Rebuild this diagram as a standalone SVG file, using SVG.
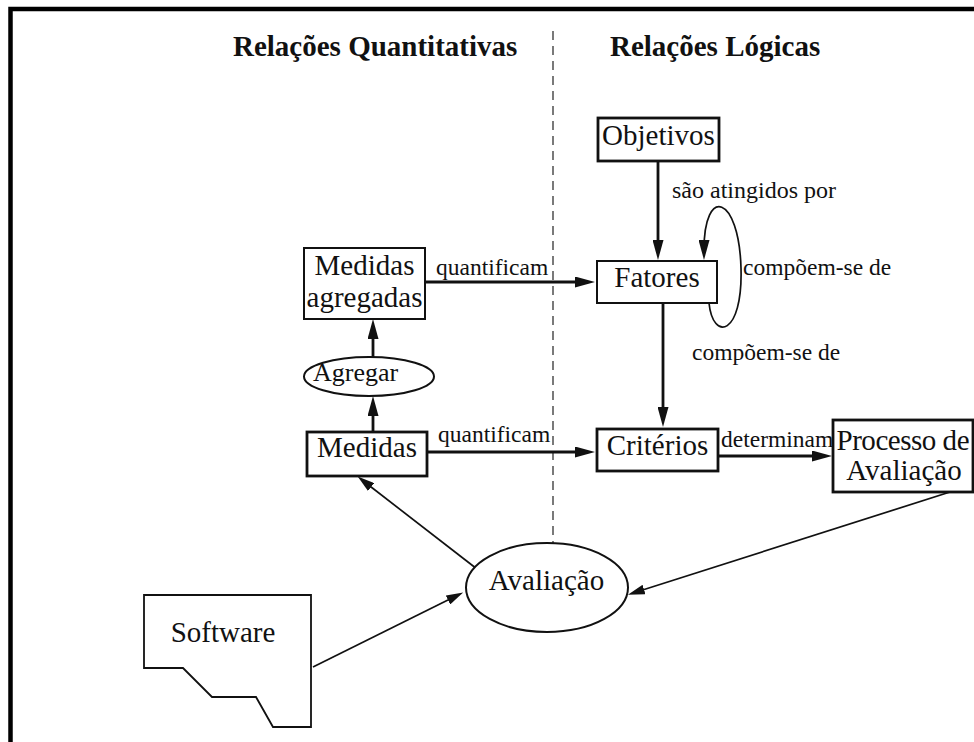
<svg xmlns="http://www.w3.org/2000/svg" width="974" height="742" viewBox="0 0 974 742" font-family="'Liberation Serif', 'DejaVu Serif', serif">
<style>
text{font-family:'Liberation Serif','DejaVu Serif',serif;fill:#111;}
.n{font-size:29px;}
.l{font-size:23.5px;}
.h{font-size:29px;font-weight:bold;}
.box{fill:#fff;stroke:#111;}
.c{fill:none;stroke:#111;}
.thick{stroke-width:2.8;}
.thin{stroke-width:1.7;}
</style>
<defs>
<marker id="ah" markerUnits="userSpaceOnUse" markerWidth="20" markerHeight="11" refX="10" refY="5.5" orient="auto">
<path d="M0,0 L20,5.5 L0,11 z" fill="#111"/>
</marker>
<marker id="as" markerUnits="userSpaceOnUse" markerWidth="17" markerHeight="10" refX="9" refY="5" orient="auto">
<path d="M0,0 L17,5 L0,10 z" fill="#111"/>
</marker>
</defs>
<rect x="0" y="0" width="974" height="742" fill="#fff"/>
<rect x="10.5" y="9" width="990" height="780" fill="none" stroke="#000" stroke-width="4.5"/>
<g id="titles">
<text class="h" x="233" y="56">Relações Quantitativas</text>
<text class="h" x="610" y="56">Relações Lógicas</text>
</g>
<line x1="553" y1="31" x2="553" y2="543" stroke="#333" stroke-width="1.3" stroke-dasharray="9,6"/>
<g id="connectors">
<line class="c thick" x1="425" y1="282" x2="585" y2="282" marker-end="url(#ah)"/>
<line class="c thick" x1="427" y1="452" x2="585" y2="452" marker-end="url(#ah)"/>
<line class="c thick" x1="718" y1="456" x2="822" y2="456" marker-end="url(#ah)"/>
<line class="c thick" x1="658" y1="161" x2="658" y2="250" marker-end="url(#ah)"/>
<line class="c thick" x1="663" y1="303" x2="663" y2="417" marker-end="url(#ah)"/>
<line class="c thick" x1="373" y1="357" x2="373" y2="329" marker-end="url(#ah)"/>
<line class="c thick" x1="373" y1="432" x2="373" y2="406" marker-end="url(#ah)"/>
<path class="c thin" d="M709 303 C713 342, 743 336, 741 268 C739 195, 704 185, 704 250" marker-end="url(#ah)"/>
<line class="c thin" x1="477" y1="569" x2="364" y2="481.5" marker-end="url(#as)"/>
<line class="c thin" x1="313" y1="667" x2="456" y2="596" marker-end="url(#as)"/>
<line class="c thin" x1="950" y1="492" x2="635.5" y2="592.3" marker-end="url(#as)"/>
<text class="l" x="436" y="275">quantificam</text>
<text class="l" x="438" y="442">quantificam</text>
<text class="l" x="721" y="447">determinam</text>
<text class="l" x="672" y="198" style="font-size:24px">são atingidos por</text>
<text class="l" x="743" y="275">compõem-se de</text>
<text class="l" x="692" y="360">compõem-se de</text>
</g>
<g id="objetivos">
<rect class="box" x="598" y="118" width="121" height="43" stroke-width="2.8"/>
<text class="n" x="658.5" y="145" text-anchor="middle">Objetivos</text>
</g>
<g id="fatores">
<rect class="box" x="597" y="261" width="120" height="42" stroke-width="2"/>
<text class="n" x="657" y="287" text-anchor="middle">Fatores</text>
</g>
<g id="medidas-agregadas">
<rect class="box" x="304" y="248" width="121" height="71" stroke-width="2"/>
<text class="n" x="364.5" y="275" text-anchor="middle">Medidas</text>
<text class="n" x="364.5" y="307" text-anchor="middle">agregadas</text>
</g>
<g id="agregar">
<ellipse class="box" cx="369" cy="376.5" rx="65" ry="19.5" stroke-width="2"/>
<text x="313" y="381" style="font-size:26px">Agregar</text>
</g>
<g id="medidas">
<rect class="box" x="307" y="432" width="120" height="44" stroke-width="2.8"/>
<text class="n" x="367" y="457" text-anchor="middle">Medidas</text>
</g>
<g id="criterios">
<rect class="box" x="597" y="429" width="121" height="42" stroke-width="2.8"/>
<text class="n" x="657.5" y="455" text-anchor="middle">Critérios</text>
</g>
<g id="processo">
<rect class="box" x="833" y="420" width="140" height="72" stroke-width="2.8"/>
<text class="n" x="903" y="450" text-anchor="middle" textLength="133">Processo de</text>
<text class="n" x="904" y="480" text-anchor="middle">Avaliação</text>
</g>
<g id="avaliacao">
<ellipse class="box" cx="547" cy="587.5" rx="81" ry="44.5" stroke-width="2"/>
<text class="n" x="546.5" y="590" text-anchor="middle">Avaliação</text>
</g>
<g id="software">
<path class="box" d="M144 595 L311 595 L311 727 L273 727 L256 697 L212 697 L183 668 L144 668 Z" stroke="#222" stroke-width="1.8"/>
<text class="n" x="223" y="642" text-anchor="middle">Software</text>
</g>
</svg>
